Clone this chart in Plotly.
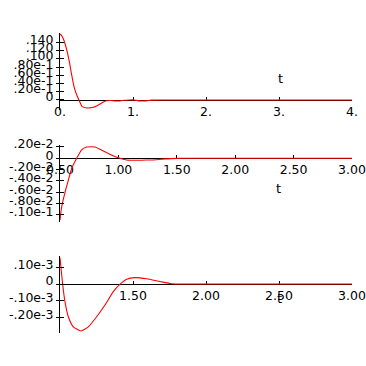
import plotly.graph_objects as go

# ---------------- data ----------------
t1 = [0, .023, .055, .092, .127, .16, .192, .229, .26, .305, .366, .41, .456, .5, .548, .6, .64,
      .7, .75, .82, .88, .95, 1.02, 1.08, 1.18, 1.25, 1.4, 2, 3, 4]
v1 = [.161, .157, .145, .122, .094, .061, .0325, .012, 0, -.0164, -.0196, -.0192, -.0178, -.0145,
      -.0098, -.0045, -.0017, -.0012, -.0022, -.0022, -.0008, 0, 0, -.0022, -.0022, -.0005, 0, 0, 0, 0]

t2 = [.5, .514, .543, .571, .6, .643, .685, .728, .765, .8, .87, .94, 1.0, 1.07, 1.18, 1.25,
      1.33, 1.4, 1.45, 1.55, 2, 3]
v2 = [-.0109, -.0086, -.006, -.0039, -.0018, 0, .0015, .0020, .00205, .0020, .0013, .0006, .0001,
      -.0003, -.00035, -.0003, -.00025, -.0001, -.00005, 0, 0, 0]

t3 = [1.0, 1.007, 1.018, 1.034, 1.057, 1.091, 1.144, 1.194, 1.251, 1.308, 1.365, 1.406, 1.457,
      1.514, 1.594, 1.685, 1.765, 1.85, 2.0, 3.0]
v3 = [.000157, .000094, 0, -.000105, -.000195, -.000255, -.00028, -.000255, -.000195, -.000125,
      -.000045, -.000005, .000029, .000038, .000031, .000015, .000002, 0, 0, 0]

x_range1 = [0, 4]
x_ticks1 = [0, 1, 2, 3, 4]
x_labels1 = ["0.", "1.", "2.", "3.", "4."]
y_ticks1 = [0, .02, .04, .06, .08, .10, .12, .14]
y_labels1 = ["0", ".20e-1", ".40e-1", ".60e-1", ".80e-1", ".100", ".120", ".140"]

x_range2 = [0.5, 3.0]
x_ticks2 = [0.5, 1.0, 1.5, 2.0, 2.5, 3.0]
x_labels2 = ["0.50", "1.00", "1.50", "2.00", "2.50", "3.00"]
y_ticks2 = [-.010, -.008, -.006, -.004, -.002, 0, .002]
y_labels2 = ["-.10e-1", "-.80e-2", "-.60e-2", "-.40e-2", "-.20e-2", "0", ".20e-2"]

x_range3 = [1.0, 3.0]
x_ticks3 = [1.5, 2.0, 2.5, 3.0]
x_labels3 = ["1.50", "2.00", "2.50", "3.00"]
y_ticks3 = [-.0002, -.0001, 0, .0001]
y_labels3 = ["-.20e-3", "-.10e-3", "0", ".10e-3"]

axis_title = "t"

# ---------------- layout geometry ----------------
W = H = 366
X0, X1 = 60, 352
FONT = dict(family="DejaVu Sans", size=12.5, color="black")

panels = [
    dict(t=t1, v=v1, xr=x_range1, xt=x_ticks1, xl=x_labels1, yt=y_ticks1, yl=y_labels1,
         top=34, bot=108, title_px=(280, 78)),
    dict(t=t2, v=v2, xr=x_range2, xt=x_ticks2, xl=x_labels2, yt=y_ticks2, yl=y_labels2,
         top=146.7, bot=220, title_px=(278, 188)),
    dict(t=t3, v=v3, xr=x_range3, xt=x_ticks3, xl=x_labels3, yt=y_ticks3, yl=y_labels3,
         top=257.7, bot=331, title_px=(279, 298)),
]

fig = go.Figure()
layout = dict(width=W, height=H, margin=dict(l=0, r=0, t=0, b=0, pad=0, autoexpand=False),
              autosize=False, paper_bgcolor="white", plot_bgcolor="white", showlegend=False,
              annotations=[])
PAD = 1.5
for i, p in enumerate(panels):
    n = i + 1
    sfx = "" if n == 1 else str(n)
    vmin, vmax = min(p["v"]), max(p["v"])
    scale = (p["bot"] - p["top"]) / (vmax - vmin)
    r0 = vmin - PAD / scale
    r1 = vmax + PAD / scale
    d0 = 1 - (p["bot"] + PAD) / H
    d1 = 1 - (p["top"] - PAD) / H
    zero = d0 + (0 - r0) / (r1 - r0) * (d1 - d0)

    fig.add_trace(go.Scatter(x=p["t"], y=p["v"], mode="lines",
                             line=dict(color="red", width=1.1, shape="spline", smoothing=0.5),
                             xaxis="x" + sfx, yaxis="y" + sfx, hoverinfo="skip"))

    layout["xaxis" + sfx] = dict(
        domain=[X0 / W, X1 / W], range=p["xr"], anchor="free", position=zero,
        showline=True, linecolor="black", linewidth=1, layer="below traces",
        ticks="inside", ticklen=3, tickcolor="black", tickvals=p["xt"], ticktext=p["xl"],
        tickfont=FONT, showgrid=False, zeroline=False, fixedrange=True, automargin=False)
    layout["yaxis" + sfx] = dict(
        domain=[d0, d1], range=[r0, r1], anchor="x" + sfx,
        showline=True, linecolor="black", linewidth=1, layer="below traces",
        ticks="outside", ticklen=3, tickcolor="black", tickvals=p["yt"], ticktext=p["yl"],
        tickfont=FONT, ticklabelshift=-3, showgrid=False, zeroline=False, fixedrange=True,
        automargin=False)
    # overlay axis that draws the inner half of the crossing tick marks
    ov = str(n + 3)
    layout["yaxis" + ov] = dict(
        overlaying="y" + sfx, anchor="x" + sfx, range=[r0, r1], side="left",
        showline=False, ticks="inside", ticklen=4, tickcolor="black", tickvals=p["yt"],
        showticklabels=False, showgrid=False, zeroline=False, fixedrange=True, automargin=False)
    fig.add_trace(go.Scatter(x=[None], y=[None], mode="lines", xaxis="x" + sfx,
                             yaxis="y" + ov, hoverinfo="skip"))

    tx, ty = p["title_px"]
    layout["annotations"].append(dict(
        text=axis_title, x=tx / W, y=1 - ty / H, xref="paper", yref="paper",
        showarrow=False, xanchor="center", yanchor="middle",
        font=dict(family="DejaVu Sans", size=13, color="black")))

fig.update_layout(**layout)
fig.write_html("out.html", config=dict(responsive=False, displayModeBar=False),
               post_script="document.body.style.margin='0';")
